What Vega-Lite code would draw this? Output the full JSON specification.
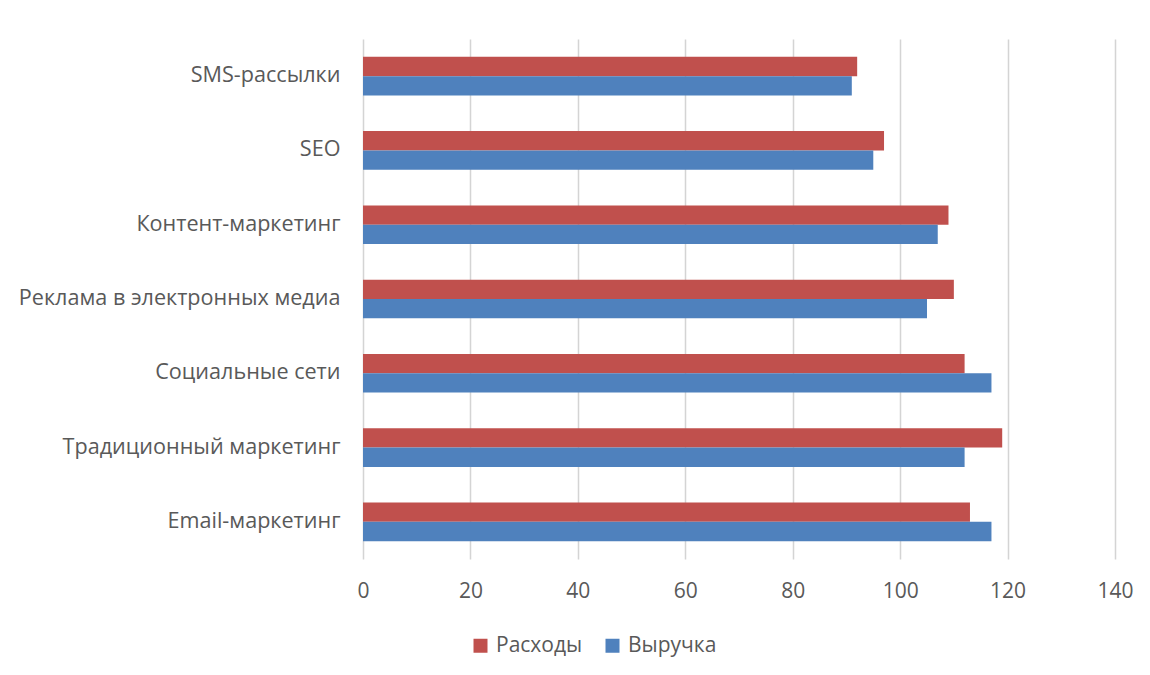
{
  "$schema": "https://vega.github.io/schema/vega-lite/v6.json",
  "width": 752,
  "height": 520,
  "autosize": {"type": "none"},
  "padding": {"left": 363, "top": 39, "right": 35, "bottom": 116},
  "background": "white",
  "data": {
    "values": [
      {"channel": "SMS-рассылки", "series": "Расходы", "value": 92},
      {"channel": "SMS-рассылки", "series": "Выручка", "value": 91},
      {"channel": "SEO", "series": "Расходы", "value": 97},
      {"channel": "SEO", "series": "Выручка", "value": 95},
      {"channel": "Контент-маркетинг", "series": "Расходы", "value": 109},
      {"channel": "Контент-маркетинг", "series": "Выручка", "value": 107},
      {"channel": "Реклама в электронных медиа", "series": "Расходы", "value": 110},
      {"channel": "Реклама в электронных медиа", "series": "Выручка", "value": 105},
      {"channel": "Социальные сети", "series": "Расходы", "value": 112},
      {"channel": "Социальные сети", "series": "Выручка", "value": 117},
      {"channel": "Традиционный маркетинг", "series": "Расходы", "value": 119},
      {"channel": "Традиционный маркетинг", "series": "Выручка", "value": 112},
      {"channel": "Email-маркетинг", "series": "Расходы", "value": 113},
      {"channel": "Email-маркетинг", "series": "Выручка", "value": 117}
    ]
  },
  "mark": {"type": "bar"},
  "encoding": {
    "y": {
      "field": "channel",
      "type": "nominal",
      "sort": null,
      "scale": {"paddingInner": 0.48, "paddingOuter": 0.24},
      "axis": {
        "title": null,
        "ticks": false,
        "domain": false,
        "labelPadding": 23,
        "labelFont": "Open Sans",
        "labelFontSize": 21.6,
        "labelColor": "#595959",
        "labelLimit": 400
      }
    },
    "yOffset": {
      "field": "series",
      "type": "nominal",
      "sort": ["Расходы", "Выручка"],
      "scale": {"paddingInner": 0, "paddingOuter": 0}
    },
    "x": {
      "field": "value",
      "type": "quantitative",
      "scale": {"domain": [0, 140], "nice": false},
      "axis": {
        "title": null,
        "values": [0, 20, 40, 60, 80, 100, 120, 140],
        "ticks": false,
        "domain": false,
        "grid": true,
        "gridColor": "#d4d4d4",
        "gridWidth": 1.5,
        "labelFlush": false,
        "labelPadding": 21,
        "labelFont": "Open Sans",
        "labelFontSize": 21,
        "labelColor": "#595959"
      }
    },
    "color": {
      "field": "series",
      "type": "nominal",
      "sort": ["Расходы", "Выручка"],
      "scale": {"domain": ["Расходы", "Выручка"], "range": ["#C0504D", "#4F81BD"]},
      "legend": {
        "title": null,
        "orient": "none",
        "direction": "horizontal",
        "legendX": 107,
        "legendY": 596,
        "symbolType": "square",
        "symbolSize": 196,
        "symbolStrokeWidth": 0,
        "symbolOpacity": 1,
        "labelFont": "Open Sans",
        "labelFontSize": 21,
        "labelColor": "#595959",
        "labelOffset": 5,
        "columnPadding": 19
      }
    }
  },
  "config": {
    "view": {"stroke": null}
  }
}
